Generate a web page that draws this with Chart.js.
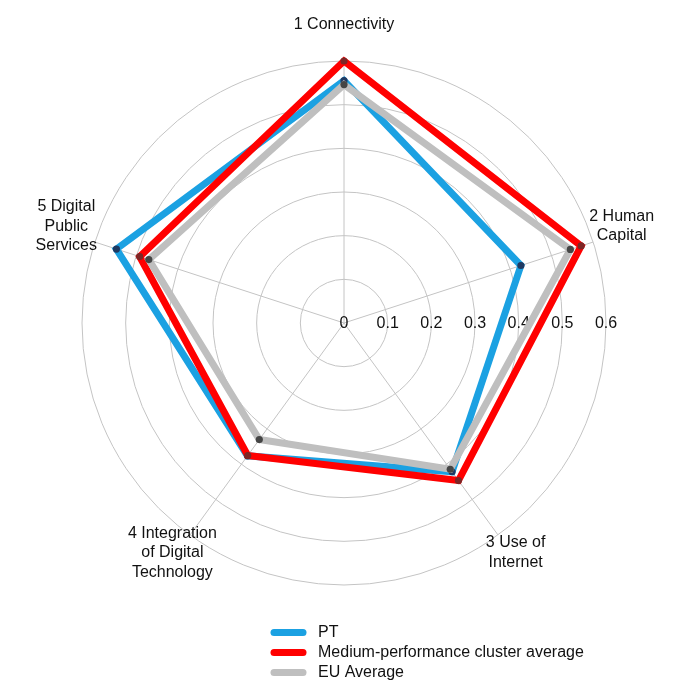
<!DOCTYPE html>
<html>
<head>
<meta charset="utf-8">
<script src="https://cdn.jsdelivr.net/npm/chart.js@4/dist/chart.umd.min.js"></script>
<style>
html,body{margin:0;padding:0;background:#ffffff;}
#wrap{width:688px;height:688px;position:relative;}
</style>
</head>
<body>
<div id="wrap"><canvas id="c"></canvas></div>
<script>
// ---- data ----
const categories = [
  ['1 Connectivity'],
  ['2 Human', 'Capital'],
  ['3 Use of', 'Internet'],
  ['4 Integration', 'of Digital', 'Technology'],
  ['5 Digital', 'Public', 'Services']
];
const seriesNames = ['PT', 'Medium-performance cluster average', 'EU Average'];
const ptValues      = [0.555, 0.426, 0.421, 0.376, 0.548];
const clusterValues = [0.600, 0.571, 0.446, 0.375, 0.492];
const euValues      = [0.546, 0.545, 0.414, 0.330, 0.470];
const tickLabels = ['0', '0.1', '0.2', '0.3', '0.4', '0.5', '0.6'];

// ---- styles ----
const FONT = '16px "Liberation Sans", Arial, Helvetica, sans-serif';
const lineColors  = ['#1ba1e2', '#ff0000', '#bfbfbf'];
const pointColors = ['#1f3a62', '#7d2626', '#454545'];
const drawOrder   = [3, 2, 1];

const textPlugin = {
  id: 'textPlugin',
  beforeDatasetsDraw(chart) {
    const s = chart.scales.r;
    const ctx = chart.ctx;
    ctx.save();
    ctx.font = FONT;
    ctx.fillStyle = '#111111';
    ctx.textAlign = 'center';
    ctx.textBaseline = 'middle';
    tickLabels.forEach(t => {
      const d = s.getDistanceFromCenterForValue(parseFloat(t));
      ctx.fillText(t, s.xCenter + d, s.yCenter + 1);
    });
    ctx.restore();
  },
  afterDraw(chart) {
    const s = chart.scales.r;
    const ctx = chart.ctx;
    ctx.save();
    ctx.font = FONT;
    ctx.fillStyle = '#111111';
    ctx.textAlign = 'center';
    ctx.textBaseline = 'middle';
    const lh = 19.5;
    chart.data.labels.forEach((lines, i) => {
      const p = s.getPointPosition(i, s.drawingArea + 30);
      const cy = p.y - 6.5;
      lines.forEach((ln, j) => {
        ctx.fillText(ln, p.x, cy + (j - (lines.length - 1) / 2) * lh);
      });
    });
    // legend
    const lx = s.xCenter - 70;
    const ly = chart.chartArea.bottom + 47.5;
    chart.data.datasets.forEach((ds, i) => {
      const y = ly + i * 20;
      ctx.beginPath();
      ctx.lineCap = 'round';
      ctx.lineWidth = 7;
      ctx.strokeStyle = ds.borderColor;
      ctx.moveTo(lx, y);
      ctx.lineTo(lx + 29, y);
      ctx.stroke();
      ctx.textAlign = 'left';
      ctx.fillStyle = '#111111';
      ctx.fillText(ds.label, lx + 44, y + 0.5);
    });
    ctx.restore();
  }
};

const seriesValues = [ptValues, clusterValues, euValues];
const datasets = seriesNames.map((name, i) => ({
  label: name,
  data: seriesValues[i],
  borderColor: lineColors[i],
  backgroundColor: lineColors[i],
  borderWidth: 7,
  fill: false,
  tension: 0,
  borderJoinStyle: 'miter',
  pointRadius: 3.6,
  pointBorderWidth: 0,
  pointBackgroundColor: pointColors[i],
  pointHoverRadius: 3.6,
  order: drawOrder[i]
}));

new Chart(document.getElementById('c'), {
  type: 'radar',
  data: { labels: categories, datasets: datasets },
  options: {
    responsive: true,
    maintainAspectRatio: false,
    devicePixelRatio: 1,
    animation: false,
    layout: { padding: { left: 82, right: 82, top: 61, bottom: 103 } },
    plugins: {
      legend: { display: false },
      tooltip: { enabled: false }
    },
    scales: {
      r: {
        min: 0,
        max: 0.6,
        ticks: { stepSize: 0.1, display: false },
        pointLabels: { display: false },
        grid: { circular: true, color: '#c4c4c4', lineWidth: 1 },
        angleLines: { color: '#c4c4c4', lineWidth: 1 }
      }
    }
  },
  plugins: [textPlugin]
});
</script>
</body>
</html>
